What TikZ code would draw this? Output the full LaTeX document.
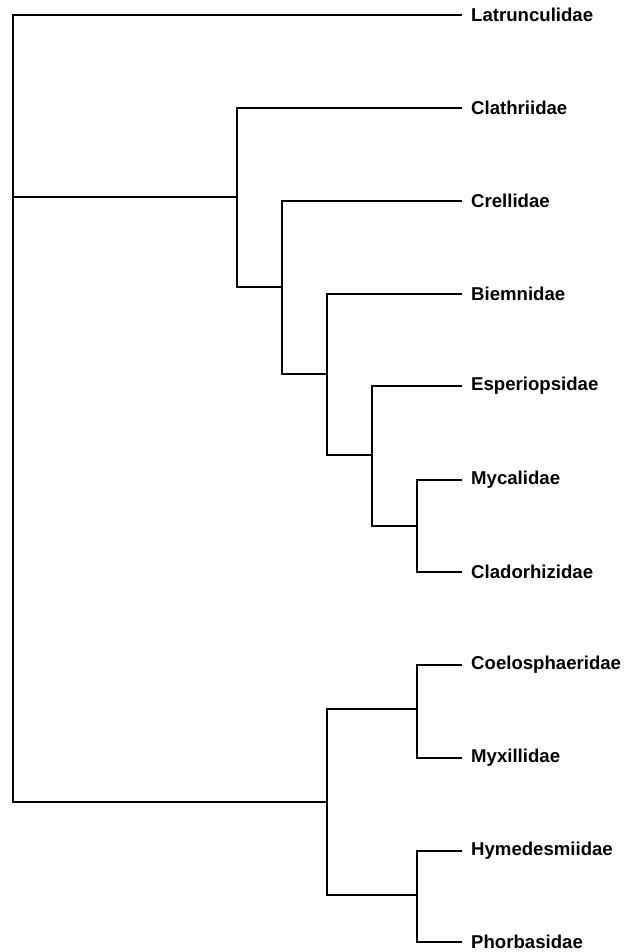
\documentclass[tikz,border=0pt]{standalone}
\usepackage{fontspec}
\setmainfont{Liberation Sans}
\begin{document}
\begin{tikzpicture}[x=1pt,y=-1pt,
  branch/.style={line width=2.6pt,black,line join=miter},
  taxon/.style={anchor=west,inner xsep=9pt,inner ysep=0pt,font=\fontsize{18.6}{20}\selectfont\bfseries}]
\useasboundingbox (0,0) rectangle (628,952);
% leaves
\node[taxon] (lat) at (462,15) {Latrunculidae};
\node[taxon] (cla) at (462,108) {Clathriidae};
\node[taxon] (cre) at (462,201) {Crellidae};
\node[taxon] (bie) at (462,294) {Biemnidae};
\node[taxon] (esp) at (462,386) {Esperiopsidae};
\node[taxon] (myc) at (462,480) {Mycalidae};
\node[taxon] (cld) at (462,572) {Cladorhizidae};
\node[taxon] (coe) at (462,665) {Coelosphaeridae};
\node[taxon] (myx) at (462,758) {Myxillidae};
\node[taxon] (hym) at (462,851) {Hymedesmiidae};
\node[taxon] (pho) at (462,942) {Phorbasidae};
% internal nodes
\coordinate (root) at (13,400);
\coordinate (A) at (237,197);
\coordinate (B) at (282,287);
\coordinate (C) at (327,374);
\coordinate (D) at (372,455);
\coordinate (E) at (417,526);
\coordinate (F) at (327,802);
\coordinate (G) at (417,709);
\coordinate (H) at (417,895);
% branches
\draw[branch] (lat.west) -| (root) |- (F);
\draw[branch] (A) -- (A -| root);
\draw[branch] (cla.west) -| (A) |- (B);
\draw[branch] (cre.west) -| (B) |- (C);
\draw[branch] (bie.west) -| (C) |- (D);
\draw[branch] (esp.west) -| (D) |- (E);
\draw[branch] (myc.west) -| (E) |- (cld.west);
\draw[branch] (G) -| (F) |- (H);
\draw[branch] (coe.west) -| (G) |- (myx.west);
\draw[branch] (hym.west) -| (H) |- (pho.west);
\end{tikzpicture}
\end{document}
